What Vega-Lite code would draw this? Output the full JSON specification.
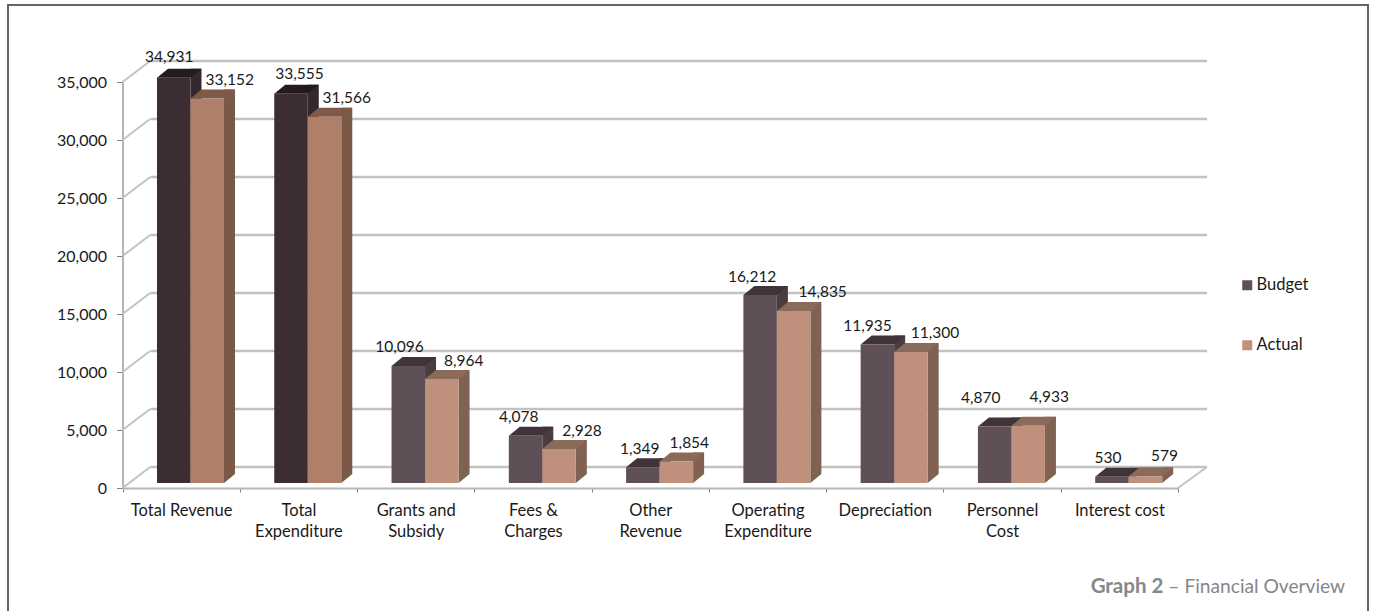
{"$schema":"https://vega.github.io/schema/vega-lite/v6.json","autosize":{"type":"none"},"padding":{"left":8,"top":5,"right":7,"bottom":0},"width":1360,"height":620,"background":"white","view":{"stroke":"#6d5f66","strokeWidth":2,"fill":"white"},"config":{"font":"Lato","text":{"font":"Lato","fontSize":15.5,"color":"#1a1a1a"}},
"layer":[
{"data":{"values":[{"tick":0},{"tick":5000},{"tick":10000},{"tick":15000},{"tick":20000},{"tick":25000},{"tick":30000},{"tick":35000}]},
"layer":[
{"mark":{"type":"rule","color":"#c2c2c2","strokeWidth":2.5,"xOffset":28,"x2Offset":87.6,"yOffset":-21,"y2Offset":-21},"encoding":{"x":{"datum":"Total Revenue","bandPosition":0,"type":"nominal","scale":{"domain":["Total Revenue","Total Expenditure","Grants and Subsidy","Fees & Charges","Other Revenue","Operating Expenditure","Depreciation","Personnel Cost","Interest cost"],"range":[114.5,1170],"paddingInner":0,"paddingOuter":0},"axis":{"title":null,"orient":"bottom","offset":-137,"domainColor":"#b5b5b5","domainWidth":2,"tickColor":"#808080","tickBand":"extent","tickSize":4,"labelAngle":0,"labelFont":"Lato","labelFontSize":16.5,"labelColor":"#1a1a1a","labelPadding":10,"labelLineHeight":21.5,"labelLimit":200,"labelExpr":"({'Total Expenditure':['Total','Expenditure'],'Grants and Subsidy':['Grants and','Subsidy'],'Fees & Charges':['Fees &','Charges'],'Other Revenue':['Other','Revenue'],'Operating Expenditure':['Operating','Expenditure'],'Personnel Cost':['Personnel','Cost']})[datum.value] || datum.label"}},"x2":{"datum":"Interest cost"},"y":{"field":"tick","type":"quantitative","scale":{"domain":[0,35000],"range":[483,77],"nice":false},"axis":{"title":null,"orient":"left","offset":-114.5,"values":[0,5000,10000,15000,20000,25000,30000,35000],"labelExpr":"format(datum.value,',')","grid":false,"domainColor":"#b5b5b5","domainWidth":2,"tickColor":"#808080","tickSize":6,"labelFont":"Lato","labelFontSize":16,"labelColor":"#1a1a1a","labelPadding":10}}}},
{"mark":{"type":"rule","color":"#c2c2c2","strokeWidth":2,"x2Offset":-31,"y2Offset":-21},"encoding":{"x":{"datum":"Total Revenue","bandPosition":0,"type":"nominal"},"x2":{"datum":"Total Revenue"},"y":{"field":"tick","type":"quantitative"},"y2":{"field":"tick"}}},
{"transform":[{"filter":"datum.tick===0"}],"mark":{"type":"rule","color":"#c2c2c2","strokeWidth":2,"x2Offset":87.6,"y2Offset":-21},"encoding":{"x":{"datum":"Interest cost","bandPosition":1,"type":"nominal"},"x2":{"datum":"Interest cost"},"y":{"field":"tick","type":"quantitative"},"y2":{"field":"tick"}}}
]},
{"data":{"values":[
{"category":"Total Revenue","series":"Budget","tone":"Budget total","value":34931},
{"category":"Total Revenue","series":"Actual","tone":"Actual total","value":33152},
{"category":"Total Expenditure","series":"Budget","tone":"Budget total","value":33555},
{"category":"Total Expenditure","series":"Actual","tone":"Actual total","value":31566},
{"category":"Grants and Subsidy","series":"Budget","tone":"Budget","value":10096},
{"category":"Grants and Subsidy","series":"Actual","tone":"Actual","value":8964},
{"category":"Fees & Charges","series":"Budget","tone":"Budget","value":4078},
{"category":"Fees & Charges","series":"Actual","tone":"Actual","value":2928},
{"category":"Other Revenue","series":"Budget","tone":"Budget","value":1349},
{"category":"Other Revenue","series":"Actual","tone":"Actual","value":1854},
{"category":"Operating Expenditure","series":"Budget","tone":"Budget","value":16212},
{"category":"Operating Expenditure","series":"Actual","tone":"Actual","value":14835},
{"category":"Depreciation","series":"Budget","tone":"Budget","value":11935},
{"category":"Depreciation","series":"Actual","tone":"Actual","value":11300},
{"category":"Personnel Cost","series":"Budget","tone":"Budget","value":4870},
{"category":"Personnel Cost","series":"Actual","tone":"Actual","value":4933},
{"category":"Interest cost","series":"Budget","tone":"Budget","value":530},
{"category":"Interest cost","series":"Actual","tone":"Actual","value":579}]},
"encoding":{"y":{"field":"value","type":"quantitative"}},
"resolve":{"scale":{"color":"independent"}},
"layer":[
{"transform":[{"filter":"datum.series==='Budget'"}],"mark":{"type":"rule","strokeWidth":11,"strokeCap":"butt","yOffset":-14,"y2Offset":-14},"encoding":{"x":{"field":"category","type":"nominal","sort":null,"bandPosition":0.6267},"y2":{"datum":0},"color":{"field":"tone","type":"nominal","legend":null,"scale":{"domain":["Budget","Actual","Budget total","Actual total"],"range":["#4a3c41","#7f6252","#33282d","#7a5a46"]}}}},
{"transform":[{"filter":"datum.series==='Actual'"}],"mark":{"type":"rule","strokeWidth":11,"strokeCap":"butt","yOffset":-14,"y2Offset":-14},"encoding":{"x":{"field":"category","type":"nominal","sort":null,"bandPosition":0.9124},"y2":{"datum":0},"color":{"field":"tone","type":"nominal","legend":null,"scale":{"domain":["Budget","Actual","Budget total","Actual total"],"range":["#4a3c41","#7f6252","#33282d","#7a5a46"]}}}},
{"mark":{"type":"point","filled":true,"size":4,"opacity":1,"yOffset":-5,"shape":"M16.75,0 L16.75,-9 L27.75,-9 Z"},"encoding":{"x":{"field":"category","type":"nominal","sort":null},"xOffset":{"field":"series","type":"nominal","scale":{"domain":["Budget","Actual"],"paddingInner":0,"paddingOuter":0.75,"align":0.686}},"y":{"datum":0,"type":"quantitative"},"color":{"field":"tone","type":"nominal","legend":null,"scale":{"domain":["Budget","Actual","Budget total","Actual total"],"range":["#4a3c41","#7f6252","#33282d","#7a5a46"]}}}},
{"mark":{"type":"point","filled":true,"size":4,"opacity":1,"yOffset":-5,"shape":"M-16.75,0 L16.75,0 L27.75,-9 L-5.75,-9 Z"},"encoding":{"x":{"field":"category","type":"nominal","sort":null},"xOffset":{"field":"series","type":"nominal","scale":{"domain":["Budget","Actual"],"paddingInner":0,"paddingOuter":0.75,"align":0.686}},"color":{"field":"tone","type":"nominal","legend":null,"scale":{"domain":["Budget","Actual","Budget total","Actual total"],"range":["#40343a","#8a6b5a","#241b1e","#7f5a48"]}}}},
{"mark":{"type":"bar","yOffset":-5,"y2Offset":-5},"encoding":{"x":{"field":"category","type":"nominal","sort":null},"xOffset":{"field":"series","type":"nominal","scale":{"domain":["Budget","Actual"],"paddingInner":0,"paddingOuter":0.75,"align":0.686}},"y2":{"datum":0},"color":{"field":"tone","type":"nominal","scale":{"domain":["Budget","Actual","Budget total","Actual total"],"range":["#5f5057","#bf917d","#3c2d32","#b07f69"]},"legend":{"orient":"none","legendX":1231,"legendY":272,"title":null,"values":["Budget","Actual"],"symbolType":"square","symbolSize":100,"symbolStrokeWidth":0,"labelFont":"Lato","labelFontSize":16.5,"labelColor":"#1a1a1a","labelOffset":1,"rowPadding":43}}}},
{"encoding":{"x":{"field":"category","type":"nominal","sort":null},"xOffset":{"field":"series","type":"nominal","scale":{"domain":["Budget","Actual"],"paddingInner":0,"paddingOuter":0.75,"align":0.686}},"text":{"field":"value","type":"quantitative","format":","}},"layer":[
{"transform":[{"filter":"datum.category==='Total Revenue'&&datum.series==='Budget'"}],"mark":{"type":"text","dx":-4.5,"dy":-26}},
{"transform":[{"filter":"datum.category==='Total Revenue'&&datum.series==='Actual'"}],"mark":{"type":"text","dx":22.4,"dy":-23}},
{"transform":[{"filter":"datum.category==='Total Expenditure'&&datum.series==='Budget'"}],"mark":{"type":"text","dx":8.4,"dy":-25}},
{"transform":[{"filter":"datum.category==='Total Expenditure'&&datum.series==='Actual'"}],"mark":{"type":"text","dx":22.3,"dy":-24}},
{"transform":[{"filter":"datum.category==='Grants and Subsidy'&&datum.series==='Budget'"}],"mark":{"type":"text","dx":-8.7,"dy":-24}},
{"transform":[{"filter":"datum.category==='Grants and Subsidy'&&datum.series==='Actual'"}],"mark":{"type":"text","dx":22,"dy":-23}},
{"transform":[{"filter":"datum.category==='Fees & Charges'&&datum.series==='Budget'"}],"mark":{"type":"text","dx":-6.8,"dy":-24}},
{"transform":[{"filter":"datum.category==='Fees & Charges'&&datum.series==='Actual'"}],"mark":{"type":"text","dx":23,"dy":-23}},
{"transform":[{"filter":"datum.category==='Other Revenue'&&datum.series==='Budget'"}],"mark":{"type":"text","dx":-3,"dy":-23}},
{"transform":[{"filter":"datum.category==='Other Revenue'&&datum.series==='Actual'"}],"mark":{"type":"text","dx":13,"dy":-23}},
{"transform":[{"filter":"datum.category==='Operating Expenditure'&&datum.series==='Budget'"}],"mark":{"type":"text","dx":-8,"dy":-23}},
{"transform":[{"filter":"datum.category==='Operating Expenditure'&&datum.series==='Actual'"}],"mark":{"type":"text","dx":29,"dy":-24}},
{"transform":[{"filter":"datum.category==='Depreciation'&&datum.series==='Budget'"}],"mark":{"type":"text","dx":-10,"dy":-24}},
{"transform":[{"filter":"datum.category==='Depreciation'&&datum.series==='Actual'"}],"mark":{"type":"text","dx":24,"dy":-24}},
{"transform":[{"filter":"datum.category==='Personnel Cost'&&datum.series==='Budget'"}],"mark":{"type":"text","dx":-14,"dy":-34}},
{"transform":[{"filter":"datum.category==='Personnel Cost'&&datum.series==='Actual'"}],"mark":{"type":"text","dx":21,"dy":-34}},
{"transform":[{"filter":"datum.category==='Interest cost'&&datum.series==='Budget'"}],"mark":{"type":"text","dx":-4,"dy":-24}},
{"transform":[{"filter":"datum.category==='Interest cost'&&datum.series==='Actual'"}],"mark":{"type":"text","dx":19,"dy":-25}}
]}
]},
{"data":{"values":[{"part":"Graph 2"}]},"mark":{"type":"text","align":"right","font":"Lato","fontWeight":"bold","fontSize":20.5,"color":"#85878a","dx":44},"encoding":{"text":{"field":"part"},"x":{"datum":"Interest cost"},"y":{"datum":-8520}}},
{"data":{"values":[{"part":"– Financial Overview"}]},"mark":{"type":"text","align":"left","font":"Lato","fontSize":19.2,"color":"#85878a","dx":49},"encoding":{"text":{"field":"part"},"x":{"datum":"Interest cost"},"y":{"datum":-8520}}}
]}
